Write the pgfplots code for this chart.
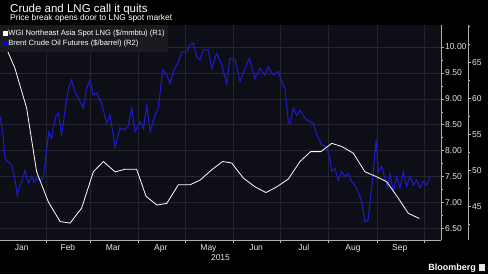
\documentclass[border=0pt]{standalone}
\usepackage{fontspec}
\setmainfont{Liberation Sans}
\usepackage{pgfplots}
\usepackage{pgfplotstable}
\pgfplotsset{compat=1.18}
\definecolor{plotbg}{RGB}{14,14,22}
\definecolor{gridc}{RGB}{38,38,48}
\definecolor{legbg}{RGB}{26,26,31}
\definecolor{axisgray}{RGB}{175,175,175}
\definecolor{brentblue}{RGB}{28,28,215}
\definecolor{lbl}{RGB}{232,232,232}

\pgfplotstableread{
day lng
2.5 10.20
4.7 10.04
11.1 9.59
18.6 8.82
25.0 7.59
32.5 7.01
40.0 6.63
46.4 6.60
53.8 6.89
61.3 7.59
67.7 7.79
75.2 7.59
81.6 7.64
89.0 7.64
95.0 7.12
101.9 6.95
108.3 6.98
115.7 7.34
123.2 7.34
129.6 7.43
137.1 7.63
144.1 7.79
149.9 7.76
157.3 7.47
164.8 7.30
171.8 7.19
178.7 7.30
186.1 7.45
193.6 7.79
200.4 7.98
207.0 7.98
213.9 8.14
220.3 8.08
227.7 7.95
235.2 7.59
242.3 7.50
249.1 7.40
255.9 7.11
262.9 6.79
270.0 6.69
}\lngdata

\pgfplotstableread{
day brent
1.6 57.5
3.3 55.5
4.7 51.7
6.9 51.2
9.0 50.8
11.1 48.8
12.6 46.6
14.0 47.8
15.4 48.4
17.5 50.0
19.7 48.2
21.8 49.2
23.4 48.4
25.0 49.0
27.1 48.7
29.3 49.0
31.4 52.9
32.8 55.4
34.6 54.5
35.7 56.0
37.5 57.7
38.9 58.0
41.0 55.0
43.1 58.2
45.3 61.4
47.4 62.6
49.5 61.0
52.8 59.6
54.9 58.7
57.0 61.4
59.2 62.6
61.3 60.5
63.4 60.8
66.6 59.4
69.8 56.6
72.0 57.7
75.2 53.3
78.4 55.9
81.6 55.7
83.7 56.3
85.9 58.7
88.0 55.4
91.2 56.8
93.3 55.9
95.5 59.1
97.6 55.4
100.8 57.7
102.9 58.7
105.7 64.0
108.3 63.3
110.4 62.1
112.5 63.8
115.7 65.1
117.9 66.5
121.1 66.5
123.2 67.5
125.3 67.7
127.5 65.8
129.6 65.4
131.7 66.8
134.9 66.8
137.1 64.2
140.3 66.3
143.5 64.7
146.7 62.1
148.8 65.6
152.0 65.4
155.2 62.4
158.4 64.2
161.1 65.6
164.8 62.8
168.0 64.2
171.2 63.3
173.3 64.4
176.5 63.3
179.7 63.8
181.9 62.4
184.0 61.4
186.1 56.8
187.2 56.6
189.3 58.7
191.5 57.7
193.6 58.4
196.8 57.3
200.0 56.8
202.1 56.6
204.3 55.0
207.5 53.6
210.7 53.3
212.8 51.7
213.9 49.9
216.0 50.3
218.1 48.7
220.3 49.9
222.4 49.2
224.5 49.6
226.7 48.5
229.9 47.6
233.1 45.7
235.2 42.9
237.3 43.2
238.9 46.6
240.5 49.6
242.3 54.3
243.7 49.9
245.9 50.6
248.0 48.9
249.7 47.6
251.2 49.6
253.3 47.1
255.5 49.2
257.6 47.6
259.7 49.9
261.9 47.8
264.0 49.2
266.1 48.0
268.3 48.7
270.4 47.6
272.5 48.5
274.7 48.0
276.8 49.2
}\brentdata

\begin{document}
\begin{tikzpicture}
\fill[black] (0,0) rectangle (488pt,274pt);
\useasboundingbox (0,0) rectangle (488pt,274pt);

% Axis A: background, grid, R1 axis, x axis
\begin{axis}[
  at={(0pt,34pt)}, anchor=south west,
  width=441pt, height=215pt, scale only axis,
  xmin=1.537, xmax=283.87,
  ymin=6.274, ymax=10.425,
  axis background/.style={fill=plotbg},
  axis x line*=bottom, axis y line*=right,
  axis line style={draw=axisgray, line width=0.5pt, -},
  every tick/.style={draw=axisgray, line width=0.5pt},
  tick align=outside,
  major tick length=2.5pt, minor tick length=1.5pt,
  xtick={31,59,90,120,151,181,212,243,273},
  xticklabels={},
  extra x ticks={15.5,45,74,104.5,135,165.5,196,227.5,257.5},
  extra x tick labels={Jan,Feb,Mar,Apr,May,Jun,Jul,Aug,Sep},
  extra x tick style={major tick length=0pt, grid=none},
  ytick={6.5,7,7.5,8,8.5,9,9.5,10},
  minor y tick num=1,
  xmajorgrids, ymajorgrids,
  grid style={draw=gridc, line width=0.5pt},
  tick label style={font=\fontsize{8.5}{10}\selectfont, text=lbl},
  /pgf/number format/assume math mode=true,
  yticklabel style={anchor=west, inner sep=0pt, xshift=1.5pt,
    /pgf/number format/.cd, fixed, fixed zerofill, precision=2},
  xticklabel style={anchor=base, inner sep=0pt, yshift=-10.5pt},
]
\end{axis}

% Axis B: Brent (R2)
\begin{axis}[
  at={(0pt,34pt)}, anchor=south west,
  width=468pt, height=215pt, scale only axis,
  xmin=1.537, xmax=301.15,
  ymin=40.375, ymax=70.24,
  axis x line=none, axis y line*=right,
  axis line style={draw=axisgray, line width=0.5pt, -},
  every tick/.style={draw=axisgray, line width=0.5pt},
  tick align=outside,
  major tick length=2.5pt, minor tick length=1.5pt,
  ytick={45,50,55,60,65},
  minor ytick={42.5,47.5,52.5,57.5,62.5,67.5,70},
  tick label style={font=\fontsize{8.5}{10}\selectfont, text=lbl},
  /pgf/number format/assume math mode=true,
  yticklabel style={anchor=west, inner sep=0pt, xshift=1.5pt},
]
\addplot[brentblue, line width=1pt] table[x=day, y=brent] {\brentdata};
\end{axis}

% Axis C: LNG (R1) white line + legend
\begin{axis}[
  at={(0pt,34pt)}, anchor=south west,
  width=441pt, height=215pt, scale only axis,
  xmin=1.537, xmax=283.87,
  ymin=6.274, ymax=10.425,
  hide axis,
  legend style={at={(0,1)}, anchor=north west, fill=legbg, draw=none,
    text=white, font=\fontsize{7.6}{8}\selectfont,
    inner xsep=3pt, inner ysep=4pt, row sep=1.4pt,
    nodes={inner sep=0.8pt}},
  legend cell align=left,
]
\addplot[white, line width=0.8pt, forget plot] table[x=day, y=lng] {\lngdata};
\addlegendimage{legend image code/.code={\fill[white] (0pt,-2pt) rectangle (4pt,2pt);}}
\addlegendentry{WGI Northeast Asia Spot LNG (\$/mmbtu) (R1)}
\addlegendimage{legend image code/.code={\fill[blue] (0pt,-2pt) rectangle (4pt,2pt);}}
\addlegendentry{Brent Crude Oil Futures (\$/barrel) (R2)}
\end{axis}

\node[anchor=base west, text=white, inner sep=0pt, font=\fontsize{11.5}{13}\selectfont] at (10pt,261.3pt) {Crude and LNG call it quits};
\node[anchor=base west, text=white, inner sep=0pt, font=\fontsize{8.4}{10}\selectfont] at (10pt,253.3pt) {Price break opens door to LNG spot market};
\node[anchor=base, text=lbl, inner sep=0pt, font=\fontsize{8.5}{10}\selectfont] at (220.5pt,13.5pt) {2015};
\node[anchor=base east, text=white, inner sep=0pt, font=\bfseries\fontsize{9}{10}\selectfont] at (476pt,3.5pt) {Bloomberg};
\fill[lbl] (479pt,3.5pt) rectangle (485pt,10pt);
\end{tikzpicture}
\end{document}
